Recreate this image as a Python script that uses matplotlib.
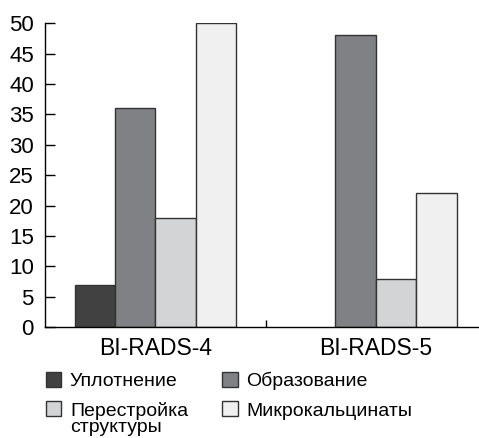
import matplotlib.pyplot as plt
import numpy as np

plt.rcParams['font.family'] = ['Liberation Sans', 'DejaVu Sans']

groups = ['BI-RADS-4', 'BI-RADS-5']
series = ['Уплотнение', 'Образование', 'Перестройка', 'Микрокальцинаты']
series_extra = 'структуры'  # second line of "Перестройка структуры"
values = [
    [7, 0],    # Уплотнение
    [36, 48],  # Образование
    [18, 8],   # Перестройка структуры
    [50, 22],  # Микрокальцинаты
]
colors = ['#414141', '#808184', '#d3d4d6', '#f0f0f0']

fig = plt.figure(figsize=(4.79, 4.38), dpi=100, facecolor='w')
ax = fig.add_axes([0.094, 0.253, 0.906, 0.694])

x = np.arange(len(groups))
w = 0.183
handles = []
for i, (name, vals) in enumerate(zip(series, values)):
    pos = x + (i - 1.5) * w
    lw = [1.0 if v > 0 else 0 for v in vals]
    b = ax.bar(pos, vals, w, color=colors[i], edgecolor='#333333', linewidth=lw,
               label=name)
    handles.append(b)

ax.set_xlim(-0.5, 1.468)
ax.set_ylim(0, 50)
ax.set_yticks(range(0, 51, 5))
ax.set_xticks(x)
ax.set_xticklabels(groups, fontsize=16.5)
ax.set_xticks([0.5], minor=True)
ax.tick_params(axis='x', which='major', length=0, pad=7)
ax.tick_params(axis='x', which='minor', direction='in', length=5, width=1)
ax.tick_params(axis='y', direction='in', length=7, width=1, labelsize=16, pad=8)
for s in ['top', 'right']:
    ax.spines[s].set_visible(False)
ax.spines['left'].set_linewidth(1)
ax.spines['bottom'].set_linewidth(1)

# legend rows: Уплотнение / Образование, Перестройка / Микрокальцинаты
order = [0, 2, 1, 3]
leg = fig.legend(handles=[handles[i] for i in order], labels=[series[i] for i in order],
                 ncol=2, loc='upper left', bbox_to_anchor=(0.075, 0.174),
                 frameon=False, fontsize=14, handlelength=0.8, handleheight=0.8,
                 handletextpad=0.45, columnspacing=1.75, labelspacing=0.6, borderpad=0)

# second line of the wrapped label, right under "Перестройка"
fig.canvas.draw()
t = [tx for tx in leg.get_texts() if tx.get_text() == series[2]][0]
bb = t.get_window_extent().transformed(fig.transFigure.inverted())
fig.text(bb.x0, bb.y0 + 0.002, series_extra, fontsize=14, ha='left', va='top')

plt.savefig('out.png', dpi=100)
plt.close()
